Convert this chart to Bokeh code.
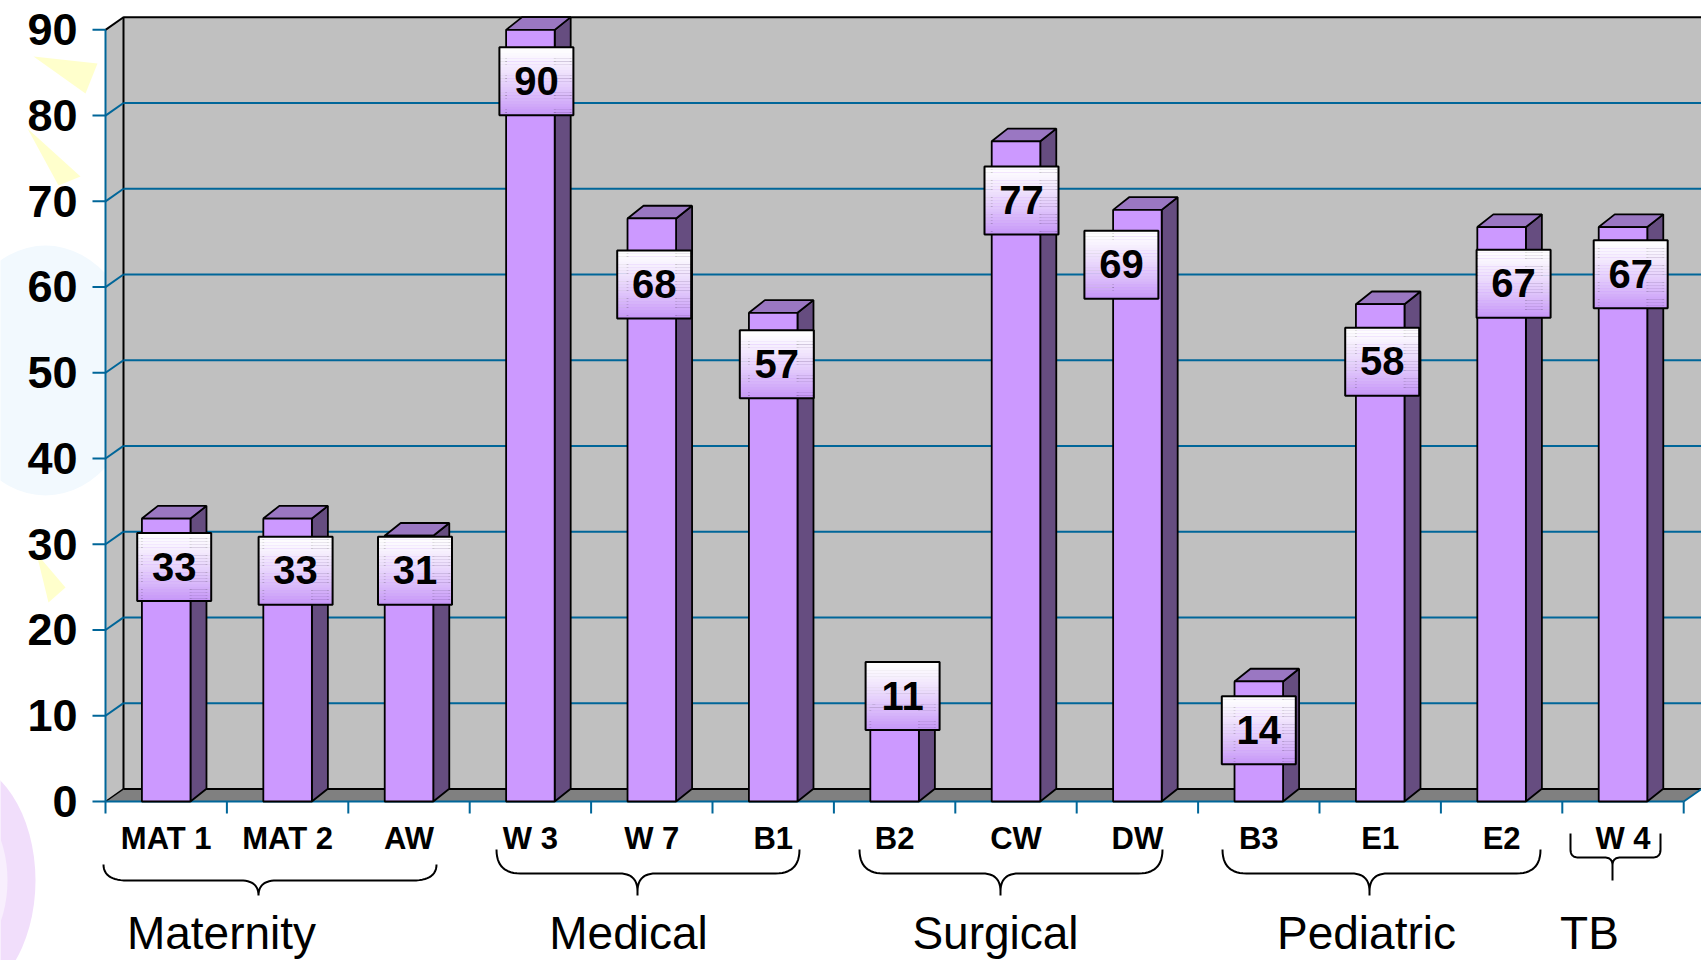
import numpy as np
from bokeh.plotting import figure
from bokeh.models import Range1d
from bokeh.embed import file_html
from bokeh.resources import INLINE
from bokeh.core.properties import value

# ---------------- data ----------------
categories = ["MAT 1", "MAT 2", "AW", "W 3", "W 7", "B1", "B2", "CW", "DW", "B3", "E1", "E2", "W 4"]
values = [33, 33, 31, 90, 68, 57, 11, 77, 69, 14, 58, 67, 67]
groups = ["Maternity", "Medical", "Surgical", "Pediatric", "TB"]
y_ticks = [0, 10, 20, 30, 40, 50, 60, 70, 80, 90]
y_tick_labels = ["0", "10", "20", "30", "40", "50", "60", "70", "80", "90"]

# ---------------- layout / style ----------------
W, H = 1701, 960
PXU = 121.4      # pixels per category
PXV = 8.574      # pixels per value unit
BASE_FIX = 0.31  # svg baseline correction (fraction of font size)


def ux(X):       # picture x pixel -> category units
    return (X - 105.0) / PXU


def vy(Y):       # picture y pixel -> value units
    return (801.0 - Y) / PXV


def lift(px_font):   # upward correction in value units
    return BASE_FIX * px_font / PXV


FRONT = "#CC99FF"
SIDE = "#664D80"
TOP = "#9A77C2"
WALL = "#C0C0C0"
FLOOR = "#808080"
BLUE = "#006699"
FONT = value("Liberation Sans")

n = len(categories)
BW = 0.40
DXB, DYB = 16 / PXU, 12.7 / PXV
DXW, DYW = 18 / PXU, 12.6 / PXV

# label box placement (pixel nudges)
label_dx_px = [8, 8, 6, 6, 2.4, 3.6, 8, 5.5, -16, 0, 2, 12, 7.7]
label_drop = [5.65, 6.1, 4.1, 6.0, 7.7, 6.0, -1.3, 6.9, 6.4, 5.7, 6.7, 6.6, 5.5]

# braces (picture pixels)
brace_left = [103, 496, 859, 1222, 1570]
brace_right = [436, 799, 1162, 1540, 1660]
brace_tip_x = [258, 637, 1000, 1369, 1612]
brace_top = [864, 849, 849, 849, 833]
brace_mid = [880, 873, 873, 873, 857]
brace_tip = [895, 895, 895, 895, 880]
brace_r = [24, 24, 24, 24, 8]
brace_r2 = [18, 18, 18, 18, 8]
group_label_x = [221, 628, 995, 1366, 1589]

p = figure(width=W, height=H,
           x_range=Range1d(ux(0), ux(W)), y_range=Range1d(vy(H), vy(0)),
           output_backend="svg", toolbar_location=None, tools="",
           x_axis_location=None, y_axis_location=None,
           min_border=0, outline_line_color=None,
           background_fill_color="white", border_fill_color="white")
p.xgrid.visible = False
p.ygrid.visible = False

# ---------------- faint slide decorations ----------------
p.ellipse(x=[ux(45)], y=[vy(370)], width=[190 / PXU], height=[250 / PXV],
          fill_color="#F2F9FE", line_color=None)
p.ellipse(x=[ux(-45)], y=[vy(880)], width=[160 / PXU], height=[242 / PXV],
          fill_color="#F1DEFB", line_color=None)
p.ellipse(x=[ux(-48)], y=[vy(880)], width=[110 / PXU], height=[170 / PXV],
          fill_color="#F8EFFD", line_color=None)
tri = [[(33, 56), (97, 63), (85, 93)], [(27, 128), (80, 176), (58, 185)],
       [(36, 553), (65, 587), (48, 602)]]
p.patches(xs=[[ux(a) for a, b in t] for t in tri], ys=[[vy(b) for a, b in t] for t in tri],
          fill_color="#FFFFCC", line_color=None)

# ---------------- 3-D walls ----------------
ymax = y_ticks[-1]
p.patch(x=[0, 0, DXW, DXW], y=[0, ymax, ymax + DYW, DYW], fill_color=WALL, line_color=None)
p.quad(left=[DXW], right=[n + DXW + 1], bottom=[DYW], top=[ymax + DYW],
       fill_color=WALL, line_color="black", line_width=2)
p.patch(x=[0, n, n + DXW, DXW], y=[0, 0, DYW, DYW], fill_color=FLOOR, line_color=None)
p.segment(x0=[DXW], y0=[DYW], x1=[n + DXW + 1], y1=[DYW], line_color="black", line_width=2)
p.segment(x0=[0], y0=[0], x1=[DXW], y1=[DYW], line_color="black", line_width=1.5)
p.segment(x0=[0], y0=[ymax], x1=[DXW], y1=[ymax + DYW], line_color="black", line_width=2)

grid_vals = [t for t in y_ticks if 0 < t < ymax]
p.segment(x0=[DXW] * len(grid_vals), y0=[t + DYW for t in grid_vals],
          x1=[n + DXW + 1] * len(grid_vals), y1=[t + DYW for t in grid_vals],
          line_color=BLUE, line_width=2)
p.segment(x0=[0] * len(grid_vals), y0=grid_vals,
          x1=[DXW] * len(grid_vals), y1=[t + DYW for t in grid_vals],
          line_color=BLUE, line_width=2)

# front axes
p.segment(x0=[0], y0=[0], x1=[0], y1=[ymax], line_color=BLUE, line_width=2)
p.segment(x0=[-13 / PXU] * len(y_ticks), y0=y_ticks, x1=[0] * len(y_ticks), y1=y_ticks,
          line_color=BLUE, line_width=2)
p.segment(x0=[0], y0=[0], x1=[n], y1=[0], line_color=BLUE, line_width=2)
p.segment(x0=[n], y0=[0], x1=[n + DXW], y1=[DYW], line_color=BLUE, line_width=2)
bounds = list(range(n + 1))
p.segment(x0=bounds, y0=[0] * len(bounds), x1=bounds, y1=[-12 / PXV] * len(bounds),
          line_color=BLUE, line_width=2)

p.text(x=[ux(77)] * len(y_ticks), y=[t - 13.7 / PXV + lift(45) for t in y_ticks],
       text=y_tick_labels,
       text_font=FONT, text_font_style="bold", text_font_size="45px",
       text_align="right", text_baseline="alphabetic", text_color="black")

# ---------------- bars ----------------
centers = [i + 0.5 for i in range(n)]
side_xs = [[c + BW / 2, c + BW / 2 + DXB, c + BW / 2 + DXB, c + BW / 2] for c in centers]
side_ys = [[0, DYB, v + DYB, v] for v in values]
top_xs = [[c - BW / 2, c + BW / 2, c + BW / 2 + DXB, c - BW / 2 + DXB] for c in centers]
top_ys = [[v, v, v + DYB, v + DYB] for v in values]
p.patches(xs=side_xs, ys=side_ys, fill_color=SIDE, line_color="black", line_width=1.8)
p.patches(xs=top_xs, ys=top_ys, fill_color=TOP, line_color="black", line_width=1.8)
p.quad(left=[c - BW / 2 for c in centers], right=[c + BW / 2 for c in centers],
       bottom=[0] * n, top=values, fill_color=FRONT, line_color="black", line_width=1.8)

# ---------------- value label boxes ----------------
box_w, box_h = 74 / PXU, 68 / PXV
bx = [c + d / PXU for c, d in zip(centers, label_dx_px)]
by = [v - d for v, d in zip(values, label_drop)]
NS = 24
sl, sr, sb, st, sc = [], [], [], [], []
c0 = np.array([255, 255, 255])
c1 = np.array([198, 150, 248])
for x, y in zip(bx, by):
    for k in range(NS):
        t_top = y + box_h / 2 - k * box_h / NS
        sl.append(x - box_w / 2)
        sr.append(x + box_w / 2)
        st.append(t_top)
        sb.append(t_top - box_h / NS - 0.02)
        f = ((k + 0.5) / NS) ** 1.3
        col = (c0 * (1 - f) + c1 * f).astype(int)
        sc.append("#%02x%02x%02x" % tuple(col))
p.quad(left=sl, right=sr, bottom=sb, top=st, fill_color=sc, line_color=None)
p.rect(x=bx, y=by, width=box_w, height=box_h, fill_color=None, line_color="black", line_width=2)
p.text(x=bx, y=[y - 12 / PXV + lift(40) for y in by], text=[str(v) for v in values],
       text_font=FONT, text_font_style="bold", text_font_size="40px",
       text_align="center", text_baseline="alphabetic", text_color="black")

# ---------------- category labels ----------------
p.text(x=centers, y=[vy(848) + lift(31)] * n, text=categories,
       text_font=FONT, text_font_style="bold", text_font_size="31px",
       text_align="center", text_baseline="alphabetic", text_color="black")


# ---------------- braces ----------------
def qbez(p0, p1, p2, m=14):
    t = np.linspace(0, 1, m)[:, None]
    p0, p1, p2 = np.array(p0), np.array(p1), np.array(p2)
    return list((1 - t) ** 2 * p0 + 2 * (1 - t) * t * p1 + t ** 2 * p2)


bxs, bys = [], []
for L, R, T, yt, ym, yp, r, r2 in zip(brace_left, brace_right, brace_tip_x, brace_top,
                                       brace_mid, brace_tip, brace_r, brace_r2):
    rv = min(r, ym - yt)
    r2v = min(r2, yp - ym)
    pts = [(L, yt)]
    pts += qbez((L, ym - rv), (L, ym), (L + r, ym))
    pts += qbez((T - r2, ym), (T, ym), (T, ym + r2v))
    pts += [(T, yp)]
    pts += qbez((T, ym + r2v), (T, ym), (T + r2, ym))
    pts += qbez((R - r, ym), (R, ym), (R, ym - rv))
    pts += [(R, yt)]
    bxs.append([ux(a) for a, b in pts])
    bys.append([vy(b) for a, b in pts])
p.multi_line(xs=bxs, ys=bys, line_color="black", line_width=2)

# ---------------- group labels ----------------
p.text(x=[ux(g) for g in group_label_x], y=[vy(947) + lift(46)] * len(groups), text=groups,
       text_font=FONT, text_font_size="46px",
       text_align="center", text_baseline="alphabetic", text_color="black")

open("out.html", "w").write(file_html(p, INLINE))
